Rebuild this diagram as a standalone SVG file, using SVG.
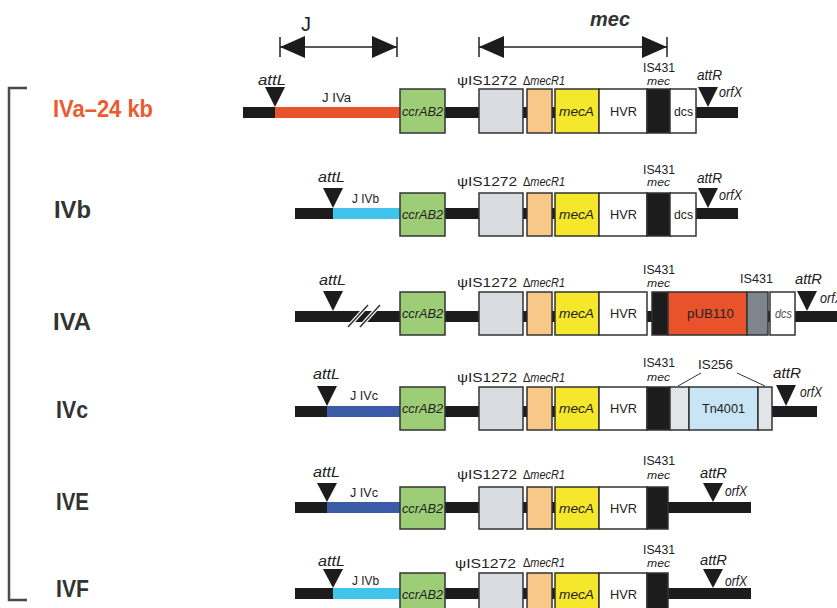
<svg xmlns="http://www.w3.org/2000/svg" width="837" height="608" viewBox="0 0 837 608">
<defs>
<style>
.bar{fill:#1c1c1c}
.bx{stroke:#333;stroke-width:1.5}
.t{font-family:"Liberation Sans",Arial,sans-serif;font-size:12px;fill:#222}
.a{font-family:"Liberation Sans",Arial,sans-serif;font-size:14px;font-style:italic;fill:#222}
.m{font-family:"Liberation Sans",Arial,sans-serif;font-size:11px;font-style:italic;fill:#222}
.d{font-family:"Liberation Sans",Arial,sans-serif;font-size:13px;fill:#222}
.it{font-style:italic}
.bt{font-family:"Liberation Sans",Arial,sans-serif;font-size:13px;fill:#222}
.rl{font-family:"Liberation Sans",Arial,sans-serif;font-weight:bold;font-size:23px;fill:#333}
.tri{fill:#1c1c1c}
.ccr{fill:#9dcd76}
.is1272{fill:#d9dce1}
.mecr{fill:#f7c887}
.meca{fill:#f5e72b}
.wh{fill:#ffffff}
.blk{fill:#1c1c1c}
.ln{stroke:#222;stroke-width:1.5;fill:none}
</style>
</defs>
<rect width="837" height="608" fill="#ffffff"/>

<g id="connectors">
  <g id="arrow-J">
    <line class="ln" x1="280" y1="47" x2="397" y2="47"/>
    <line class="ln" x1="280" y1="37" x2="280" y2="57"/>
    <line class="ln" x1="397" y1="37" x2="397" y2="57"/>
    <polygon class="tri" points="280,47 305,36 305,58"/>
    <polygon class="tri" points="397,47 372,36 372,58"/>
  </g>
  <g id="arrow-mec">
    <line class="ln" x1="479" y1="47" x2="667" y2="47"/>
    <line class="ln" x1="479" y1="37" x2="479" y2="57"/>
    <line class="ln" x1="667" y1="37" x2="667" y2="57"/>
    <polygon class="tri" points="479,47 504,36 504,58"/>
    <polygon class="tri" points="667,47 642,36 642,58"/>
  </g>
  <g id="is256-leaders">
    <line stroke="#333" stroke-width="1" x1="701" y1="373" x2="678" y2="386"/>
    <line stroke="#333" stroke-width="1" x1="737" y1="373" x2="765" y2="386"/>
  </g>
  <path id="bracket" d="M27,88 H9 V600 H27" stroke="#4a4a4a" stroke-width="2.5" fill="none"/>
</g>

<g id="header">
  <text x="301" y="31" font-family="Liberation Sans, Arial, sans-serif" font-size="20" fill="#222">J</text>
  <text x="590" y="26" font-family="Liberation Sans, Arial, sans-serif" font-size="20" font-weight="bold" font-style="italic" fill="#333" textLength="40" lengthAdjust="spacingAndGlyphs">mec</text>
</g>

<g id="row-labels">
  <text id="lbl-IVa" class="rl" x="53" y="117" style="fill:#ec5a30" textLength="100" lengthAdjust="spacingAndGlyphs">IVa–24 kb</text>
  <text id="lbl-IVb" class="rl" x="54" y="218" textLength="37" lengthAdjust="spacingAndGlyphs">IVb</text>
  <text id="lbl-IVA" class="rl" x="53" y="330" textLength="38" lengthAdjust="spacingAndGlyphs">IVA</text>
  <text id="lbl-IVc" class="rl" x="56" y="418" textLength="32" lengthAdjust="spacingAndGlyphs">IVc</text>
  <text id="lbl-IVE" class="rl" x="56" y="510" textLength="33" lengthAdjust="spacingAndGlyphs">IVE</text>
  <text id="lbl-IVF" class="rl" x="56" y="597" textLength="33" lengthAdjust="spacingAndGlyphs">IVF</text>
</g>

<!-- Row 1: IVa-24kb -->
<g id="row-IVa">
  <rect class="bar" x="243" y="107" width="495" height="11"/>
  <rect id="IVa-J" x="275" y="107" width="126" height="11" fill="#e8532b"/>
  <g id="IVa-attL"><polygon class="tri" points="265,87 285,87 275,107"/><text class="a" x="258" y="85" textLength="28" lengthAdjust="spacingAndGlyphs">attL</text></g>
  <text class="t" x="322" y="102" textLength="29" lengthAdjust="spacingAndGlyphs">J IVa</text>
  <g id="IVa-ccr"><rect class="bx ccr" x="400" y="89" width="45" height="44"/><text class="bt it" x="402" y="116" textLength="41" lengthAdjust="spacingAndGlyphs">ccrAB2</text></g>
  <g id="IVa-is1272"><rect class="bx is1272" x="479" y="89" width="44" height="44"/><text class="t" x="457" y="85" textLength="60" lengthAdjust="spacingAndGlyphs">ψIS1272</text></g>
  <g id="IVa-mecR1"><rect class="bx mecr" x="527" y="89" width="25" height="44"/><text class="d" x="523" y="85" textLength="42" lengthAdjust="spacingAndGlyphs">Δ<tspan class="it">mecR1</tspan></text></g>
  <g id="IVa-mecA"><rect class="bx meca" x="555" y="89" width="44" height="44"/><text class="bt it" x="559" y="116" textLength="35" lengthAdjust="spacingAndGlyphs">mecA</text></g>
  <g id="IVa-HVR"><rect class="bx wh" x="599" y="89" width="48" height="44"/><text class="bt" x="610" y="116" textLength="27" lengthAdjust="spacingAndGlyphs">HVR</text></g>
  <g id="IVa-IS431"><rect class="bx blk" x="647" y="89" width="23" height="44"/><text class="t" x="643" y="72" textLength="32" lengthAdjust="spacingAndGlyphs">IS431</text><text class="m" x="647" y="85" textLength="23" lengthAdjust="spacingAndGlyphs">mec</text></g>
  <g id="IVa-dcs"><rect class="bx wh" x="670" y="89" width="26" height="44"/><text class="bt" x="674" y="116" textLength="19" lengthAdjust="spacingAndGlyphs">dcs</text></g>
  <g id="IVa-attR"><polygon class="tri" points="698,87 718,87 708,107"/><text class="a" x="697" y="80" textLength="25" lengthAdjust="spacingAndGlyphs">attR</text><text class="a" x="719" y="97" textLength="23" lengthAdjust="spacingAndGlyphs">orfX</text></g>
</g>

<!-- Row 2: IVb -->
<g id="row-IVb">
  <rect class="bar" x="295" y="208" width="443" height="11"/>
  <rect id="IVb-J" x="333" y="208" width="68" height="11" fill="#41c4ec"/>
  <g id="IVb-attL"><polygon class="tri" points="323,188 343,188 333,208"/><text class="a" x="318" y="182" textLength="27" lengthAdjust="spacingAndGlyphs">attL</text></g>
  <text class="t" x="352" y="203" textLength="27" lengthAdjust="spacingAndGlyphs">J IVb</text>
  <g id="IVb-ccr"><rect class="bx ccr" x="400" y="193" width="45" height="43"/><text class="bt it" x="402" y="219" textLength="41" lengthAdjust="spacingAndGlyphs">ccrAB2</text></g>
  <g id="IVb-is1272"><rect class="bx is1272" x="479" y="193" width="44" height="43"/><text class="t" x="457" y="186" textLength="60" lengthAdjust="spacingAndGlyphs">ψIS1272</text></g>
  <g id="IVb-mecR1"><rect class="bx mecr" x="527" y="193" width="25" height="43"/><text class="d" x="523" y="186" textLength="42" lengthAdjust="spacingAndGlyphs">Δ<tspan class="it">mecR1</tspan></text></g>
  <g id="IVb-mecA"><rect class="bx meca" x="555" y="193" width="44" height="43"/><text class="bt it" x="559" y="219" textLength="35" lengthAdjust="spacingAndGlyphs">mecA</text></g>
  <g id="IVb-HVR"><rect class="bx wh" x="599" y="193" width="48" height="43"/><text class="bt" x="610" y="219" textLength="27" lengthAdjust="spacingAndGlyphs">HVR</text></g>
  <g id="IVb-IS431"><rect class="bx blk" x="647" y="193" width="23" height="43"/><text class="t" x="643" y="174" textLength="32" lengthAdjust="spacingAndGlyphs">IS431</text><text class="m" x="647" y="186" textLength="23" lengthAdjust="spacingAndGlyphs">mec</text></g>
  <g id="IVb-dcs"><rect class="bx wh" x="670" y="193" width="26" height="43"/><text class="bt" x="674" y="219" textLength="19" lengthAdjust="spacingAndGlyphs">dcs</text></g>
  <g id="IVb-attR"><polygon class="tri" points="698,188 718,188 708,208"/><text class="a" x="697" y="183" textLength="25" lengthAdjust="spacingAndGlyphs">attR</text><text class="a" x="719" y="200" textLength="23" lengthAdjust="spacingAndGlyphs">orfX</text></g>
</g>

<!-- Row 3: IVA -->
<g id="row-IVA">
  <rect class="bar" x="295" y="311" width="542" height="11"/>
  <g id="IVA-attL"><polygon class="tri" points="323,291 343,291 333,311"/><text class="a" x="319" y="285" textLength="27" lengthAdjust="spacingAndGlyphs">attL</text></g>
  <g id="IVA-break">
    <line stroke="#ffffff" stroke-width="4" x1="349" y1="326" x2="367" y2="306"/>
    <line stroke="#ffffff" stroke-width="4" x1="361" y1="326" x2="379" y2="306"/>
    <line stroke="#333" stroke-width="1.5" x1="348" y1="327" x2="368" y2="305"/>
    <line stroke="#333" stroke-width="1.5" x1="360" y1="327" x2="380" y2="305"/>
  </g>
  <g id="IVA-ccr"><rect class="bx ccr" x="400" y="292" width="45" height="43"/><text class="bt it" x="402" y="318" textLength="41" lengthAdjust="spacingAndGlyphs">ccrAB2</text></g>
  <g id="IVA-is1272"><rect class="bx is1272" x="479" y="292" width="44" height="43"/><text class="t" x="457" y="287" textLength="60" lengthAdjust="spacingAndGlyphs">ψIS1272</text></g>
  <g id="IVA-mecR1"><rect class="bx mecr" x="527" y="292" width="25" height="43"/><text class="d" x="523" y="287" textLength="42" lengthAdjust="spacingAndGlyphs">Δ<tspan class="it">mecR1</tspan></text></g>
  <g id="IVA-mecA"><rect class="bx meca" x="555" y="292" width="44" height="43"/><text class="bt it" x="559" y="318" textLength="35" lengthAdjust="spacingAndGlyphs">mecA</text></g>
  <g id="IVA-HVR"><rect class="bx wh" x="599" y="292" width="48" height="43"/><text class="bt" x="610" y="318" textLength="27" lengthAdjust="spacingAndGlyphs">HVR</text></g>
  <g id="IVA-IS431"><rect class="bx blk" x="652" y="292" width="16" height="43"/><text class="t" x="643" y="274" textLength="32" lengthAdjust="spacingAndGlyphs">IS431</text><text class="m" x="647" y="287" textLength="23" lengthAdjust="spacingAndGlyphs">mec</text></g>
  <g id="IVA-pUB110"><rect class="bx" fill="#e8532b" x="668" y="292" width="79" height="43"/><text class="bt" x="687" y="318" textLength="47" lengthAdjust="spacingAndGlyphs">pUB110</text></g>
  <g id="IVA-IS431b"><rect class="bx" fill="#7d858d" x="747" y="292" width="21" height="43"/><text class="t" x="740" y="283" textLength="33" lengthAdjust="spacingAndGlyphs">IS431</text></g>
  <g id="IVA-dcs"><rect class="bx wh" x="770" y="292" width="25" height="43"/><text class="bt it" x="775" y="318" style="fill:#555" textLength="17" lengthAdjust="spacingAndGlyphs">dcs</text></g>
  <g id="IVA-attR"><polygon class="tri" points="797,291 817,291 807,311"/><text class="a" x="795" y="284" textLength="27" lengthAdjust="spacingAndGlyphs">attR</text><text class="a" x="820" y="303" textLength="23" lengthAdjust="spacingAndGlyphs">orfX</text></g>
</g>

<!-- Row 4: IVc -->
<g id="row-IVc">
  <rect class="bar" x="295" y="406" width="522" height="11"/>
  <rect id="IVc-J" x="327" y="406" width="74" height="11" fill="#3a5ba6"/>
  <g id="IVc-attL"><polygon class="tri" points="317,386 337,386 327,406"/><text class="a" x="313" y="379" textLength="27" lengthAdjust="spacingAndGlyphs">attL</text></g>
  <text class="t" x="350" y="400" textLength="28" lengthAdjust="spacingAndGlyphs">J IVc</text>
  <g id="IVc-ccr"><rect class="bx ccr" x="400" y="387" width="45" height="43"/><text class="bt it" x="402" y="413" textLength="41" lengthAdjust="spacingAndGlyphs">ccrAB2</text></g>
  <g id="IVc-is1272"><rect class="bx is1272" x="479" y="387" width="44" height="43"/><text class="t" x="457" y="382" textLength="60" lengthAdjust="spacingAndGlyphs">ψIS1272</text></g>
  <g id="IVc-mecR1"><rect class="bx mecr" x="527" y="387" width="25" height="43"/><text class="d" x="523" y="382" textLength="42" lengthAdjust="spacingAndGlyphs">Δ<tspan class="it">mecR1</tspan></text></g>
  <g id="IVc-mecA"><rect class="bx meca" x="555" y="387" width="44" height="43"/><text class="bt it" x="559" y="413" textLength="35" lengthAdjust="spacingAndGlyphs">mecA</text></g>
  <g id="IVc-HVR"><rect class="bx wh" x="599" y="387" width="48" height="43"/><text class="bt" x="610" y="413" textLength="27" lengthAdjust="spacingAndGlyphs">HVR</text></g>
  <g id="IVc-IS431"><rect class="bx blk" x="647" y="387" width="23" height="43"/><text class="t" x="643" y="367" textLength="32" lengthAdjust="spacingAndGlyphs">IS431</text><text class="m" x="647" y="381" textLength="23" lengthAdjust="spacingAndGlyphs">mec</text></g>
  <g id="IVc-IS256a"><rect class="bx" fill="#e2e4e7" x="670" y="387" width="19" height="43"/></g>
  <g id="IVc-Tn4001"><rect class="bx" fill="#c7e5f4" x="689" y="387" width="69" height="43"/><text class="bt" x="702" y="413" textLength="43" lengthAdjust="spacingAndGlyphs">Tn4001</text></g>
  <g id="IVc-IS256b"><rect class="bx" fill="#e2e4e7" x="758" y="387" width="14" height="43"/></g>
  <text class="t" x="698" y="369" textLength="35" lengthAdjust="spacingAndGlyphs">IS256</text>
  <g id="IVc-attR"><polygon class="tri" points="776,385 796,385 786,406"/><text class="a" x="773" y="378" textLength="28" lengthAdjust="spacingAndGlyphs">attR</text><text class="a" x="800" y="397" textLength="22" lengthAdjust="spacingAndGlyphs">orfX</text></g>
</g>

<!-- Row 5: IVE -->
<g id="row-IVE">
  <rect class="bar" x="295" y="502" width="456" height="11"/>
  <rect id="IVE-J" x="327" y="502" width="74" height="11" fill="#3a5ba6"/>
  <g id="IVE-attL"><polygon class="tri" points="317,483 337,483 327,502"/><text class="a" x="313" y="477" textLength="27" lengthAdjust="spacingAndGlyphs">attL</text></g>
  <text class="t" x="350" y="497" textLength="28" lengthAdjust="spacingAndGlyphs">J IVc</text>
  <g id="IVE-ccr"><rect class="bx ccr" x="400" y="487" width="45" height="42"/><text class="bt it" x="402" y="513" textLength="41" lengthAdjust="spacingAndGlyphs">ccrAB2</text></g>
  <g id="IVE-is1272"><rect class="bx is1272" x="479" y="487" width="44" height="42"/><text class="t" x="457" y="479" textLength="60" lengthAdjust="spacingAndGlyphs">ψIS1272</text></g>
  <g id="IVE-mecR1"><rect class="bx mecr" x="527" y="487" width="25" height="42"/><text class="d" x="523" y="479" textLength="42" lengthAdjust="spacingAndGlyphs">Δ<tspan class="it">mecR1</tspan></text></g>
  <g id="IVE-mecA"><rect class="bx meca" x="555" y="487" width="44" height="42"/><text class="bt it" x="559" y="513" textLength="35" lengthAdjust="spacingAndGlyphs">mecA</text></g>
  <g id="IVE-HVR"><rect class="bx wh" x="599" y="487" width="48" height="42"/><text class="bt" x="610" y="513" textLength="27" lengthAdjust="spacingAndGlyphs">HVR</text></g>
  <g id="IVE-IS431"><rect class="bx blk" x="647" y="487" width="21" height="42"/><text class="t" x="643" y="465" textLength="32" lengthAdjust="spacingAndGlyphs">IS431</text><text class="m" x="647" y="479" textLength="23" lengthAdjust="spacingAndGlyphs">mec</text></g>
  <g id="IVE-attR"><polygon class="tri" points="703,483 723,483 713,502"/><text class="a" x="700" y="478" textLength="27" lengthAdjust="spacingAndGlyphs">attR</text><text class="a" x="725" y="496" textLength="22" lengthAdjust="spacingAndGlyphs">orfX</text></g>
</g>

<!-- Row 6: IVF -->
<g id="row-IVF">
  <rect class="bar" x="295" y="588" width="456" height="11"/>
  <rect id="IVF-J" x="333" y="588" width="68" height="11" fill="#41c4ec"/>
  <g id="IVF-attL"><polygon class="tri" points="323,569 343,569 333,588"/><text class="a" x="318" y="566" textLength="27" lengthAdjust="spacingAndGlyphs">attL</text></g>
  <text class="t" x="352" y="585" textLength="27" lengthAdjust="spacingAndGlyphs">J IVb</text>
  <g id="IVF-ccr"><rect class="bx ccr" x="400" y="573" width="45" height="43"/><text class="bt it" x="402" y="599" textLength="41" lengthAdjust="spacingAndGlyphs">ccrAB2</text></g>
  <g id="IVF-is1272"><rect class="bx is1272" x="479" y="573" width="44" height="43"/><text class="t" x="455" y="568" textLength="61" lengthAdjust="spacingAndGlyphs">ψIS1272</text></g>
  <g id="IVF-mecR1"><rect class="bx mecr" x="527" y="573" width="25" height="43"/><text class="d" x="523" y="567" textLength="42" lengthAdjust="spacingAndGlyphs">Δ<tspan class="it">mecR1</tspan></text></g>
  <g id="IVF-mecA"><rect class="bx meca" x="555" y="573" width="44" height="43"/><text class="bt it" x="559" y="599" textLength="35" lengthAdjust="spacingAndGlyphs">mecA</text></g>
  <g id="IVF-HVR"><rect class="bx wh" x="599" y="573" width="48" height="43"/><text class="bt" x="610" y="599" textLength="27" lengthAdjust="spacingAndGlyphs">HVR</text></g>
  <g id="IVF-IS431"><rect class="bx blk" x="647" y="573" width="21" height="43"/><text class="t" x="643" y="554" textLength="32" lengthAdjust="spacingAndGlyphs">IS431</text><text class="m" x="647" y="567" textLength="23" lengthAdjust="spacingAndGlyphs">mec</text></g>
  <g id="IVF-attR"><polygon class="tri" points="703,569 723,569 713,588"/><text class="a" x="700" y="565" textLength="27" lengthAdjust="spacingAndGlyphs">attR</text><text class="a" x="725" y="586" textLength="22" lengthAdjust="spacingAndGlyphs">orfX</text></g>
</g>
</svg>
